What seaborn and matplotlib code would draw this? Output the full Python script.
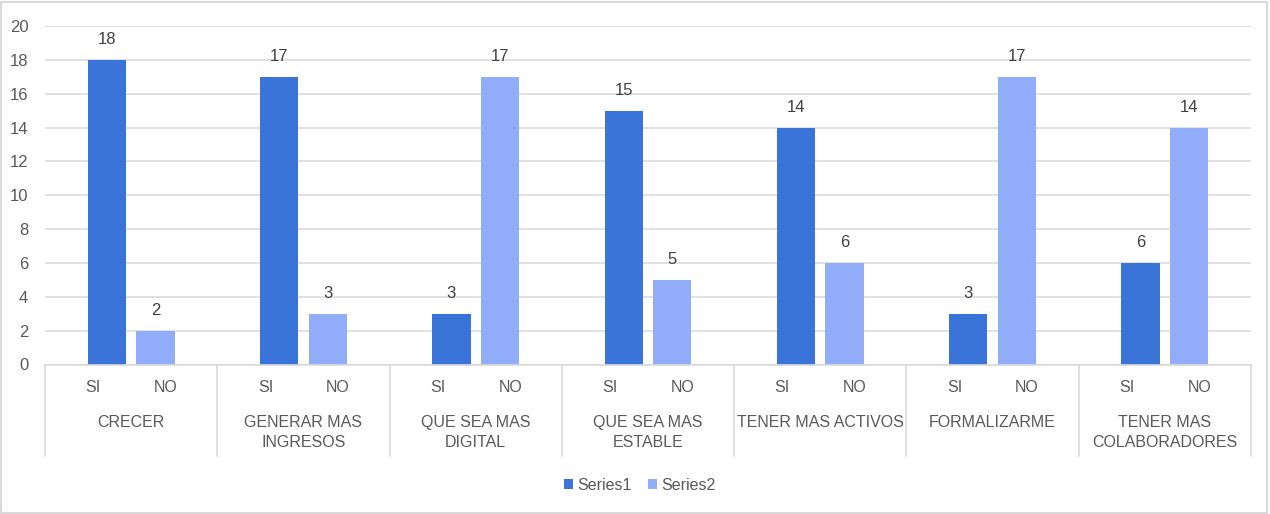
import numpy as np
import pandas as pd
import matplotlib
matplotlib.use("Agg")
import matplotlib.pyplot as plt
from matplotlib.patches import Patch, Rectangle
import seaborn as sns

# Chart data
groups = ["CRECER", "GENERAR MAS\nINGRESOS", "QUE SEA MAS\nDIGITAL", "QUE SEA MAS\nESTABLE",
          "TENER MAS ACTIVOS", "FORMALIZARME", "TENER MAS\nCOLABORADORES"]
answers = ["SI", "NO"]
series_names = ["Series1", "Series2"]
series1 = [18, 17, 3, 15, 14, 3, 6]     # SI answers
series2 = [2, 3, 17, 5, 6, 17, 14]      # NO answers
y_ticks = [0, 2, 4, 6, 8, 10, 12, 14, 16, 18, 20]

colors = ["#3A74D8", "#91ACF8"]
grid_c = "#d9d9d9"
label_c = "#595959"
value_c = "#404040"

sns.set_theme(style="white")
plt.rcParams["font.family"] = ["Liberation Sans", "DejaVu Sans"]
FS = 12
FS_CAT = 11.5

# bar centres inside each category band [i, i+1]
bar_off = [0.359, 0.641]
label_off = [0.28, 0.70]

rows = []
for i in range(len(groups)):
    rows.append({"pos": i + bar_off[0], "value": series1[i], "series": series_names[0]})
    rows.append({"pos": i + bar_off[1], "value": series2[i], "series": series_names[1]})
df = pd.DataFrame(rows)

W, H = 1270, 514
fig = plt.figure(figsize=(W / 100, H / 100), dpi=100)
ax_left, ax_right = 45, 1251
ax_top, ax_bot = 26, 364.5
ax = fig.add_axes([ax_left / W, 1 - ax_bot / H, (ax_right - ax_left) / W, (ax_bot - ax_top) / H])
ax_h = ax_bot - ax_top

sns.barplot(data=df, x="pos", y="value", hue="series", native_scale=True,
            palette=colors, width=0.787, dodge=False, saturation=1,
            legend=False, ax=ax, edgecolor="none")

ax.set_xlim(0, len(groups))
ax.set_ylim(0, 20)
ax.set_yticks(y_ticks)
ax.set_yticklabels([str(t) for t in y_ticks], fontsize=FS, color=label_c)
ax.set_xticks([])
ax.set_xlabel("")
ax.set_ylabel("")
ax.yaxis.grid(True, color=grid_c, linewidth=1.1)
ax.set_axisbelow(True)
ax.tick_params(axis="y", length=0, pad=12)
for s in ["top", "right", "left"]:
    ax.spines[s].set_visible(False)
ax.spines["bottom"].set_color(grid_c)
ax.spines["bottom"].set_linewidth(1.2)

# value labels on top of bars
for _, r in df.iterrows():
    ax.annotate(str(int(r["value"])), (r["pos"], r["value"]), xytext=(0, 9),
                textcoords="offset points", ha="center", va="bottom",
                fontsize=FS, color=value_c)

# multi-level category axis
trans = ax.get_xaxis_transform()
def below(px):
    return -px / ax_h

for k in range(len(groups) + 1):
    ax.plot([k, k], [0, below(456 - ax_bot)], color=grid_c, lw=1.2,
            transform=trans, clip_on=False)
for i, g in enumerate(groups):
    for j, a in enumerate(answers):
        ax.text(i + label_off[j], below(388 - ax_bot), a, transform=trans,
                ha="center", va="center", fontsize=FS_CAT, color=label_c)
    ax.text(i + 0.5, below(415 - ax_bot), g, transform=trans, ha="center", va="top",
            fontsize=FS_CAT, color=label_c, linespacing=1.4)

handles = [Patch(facecolor=c, edgecolor="none", label=n) for c, n in zip(colors, series_names)]
fig.legend(handles=handles, loc="center", bbox_to_anchor=(640 / W, 1 - 485 / H), ncol=2,
           frameon=False, fontsize=FS_CAT, handlelength=0.55, handleheight=0.55,
           handletextpad=0.3, columnspacing=1.0, labelcolor=label_c)

fig.patches.append(Rectangle((0.001, 0.002), 0.997, 0.995, transform=fig.transFigure,
                             fill=False, edgecolor=grid_c, lw=1.5))

fig.savefig("out.png", dpi=100, facecolor="white")
